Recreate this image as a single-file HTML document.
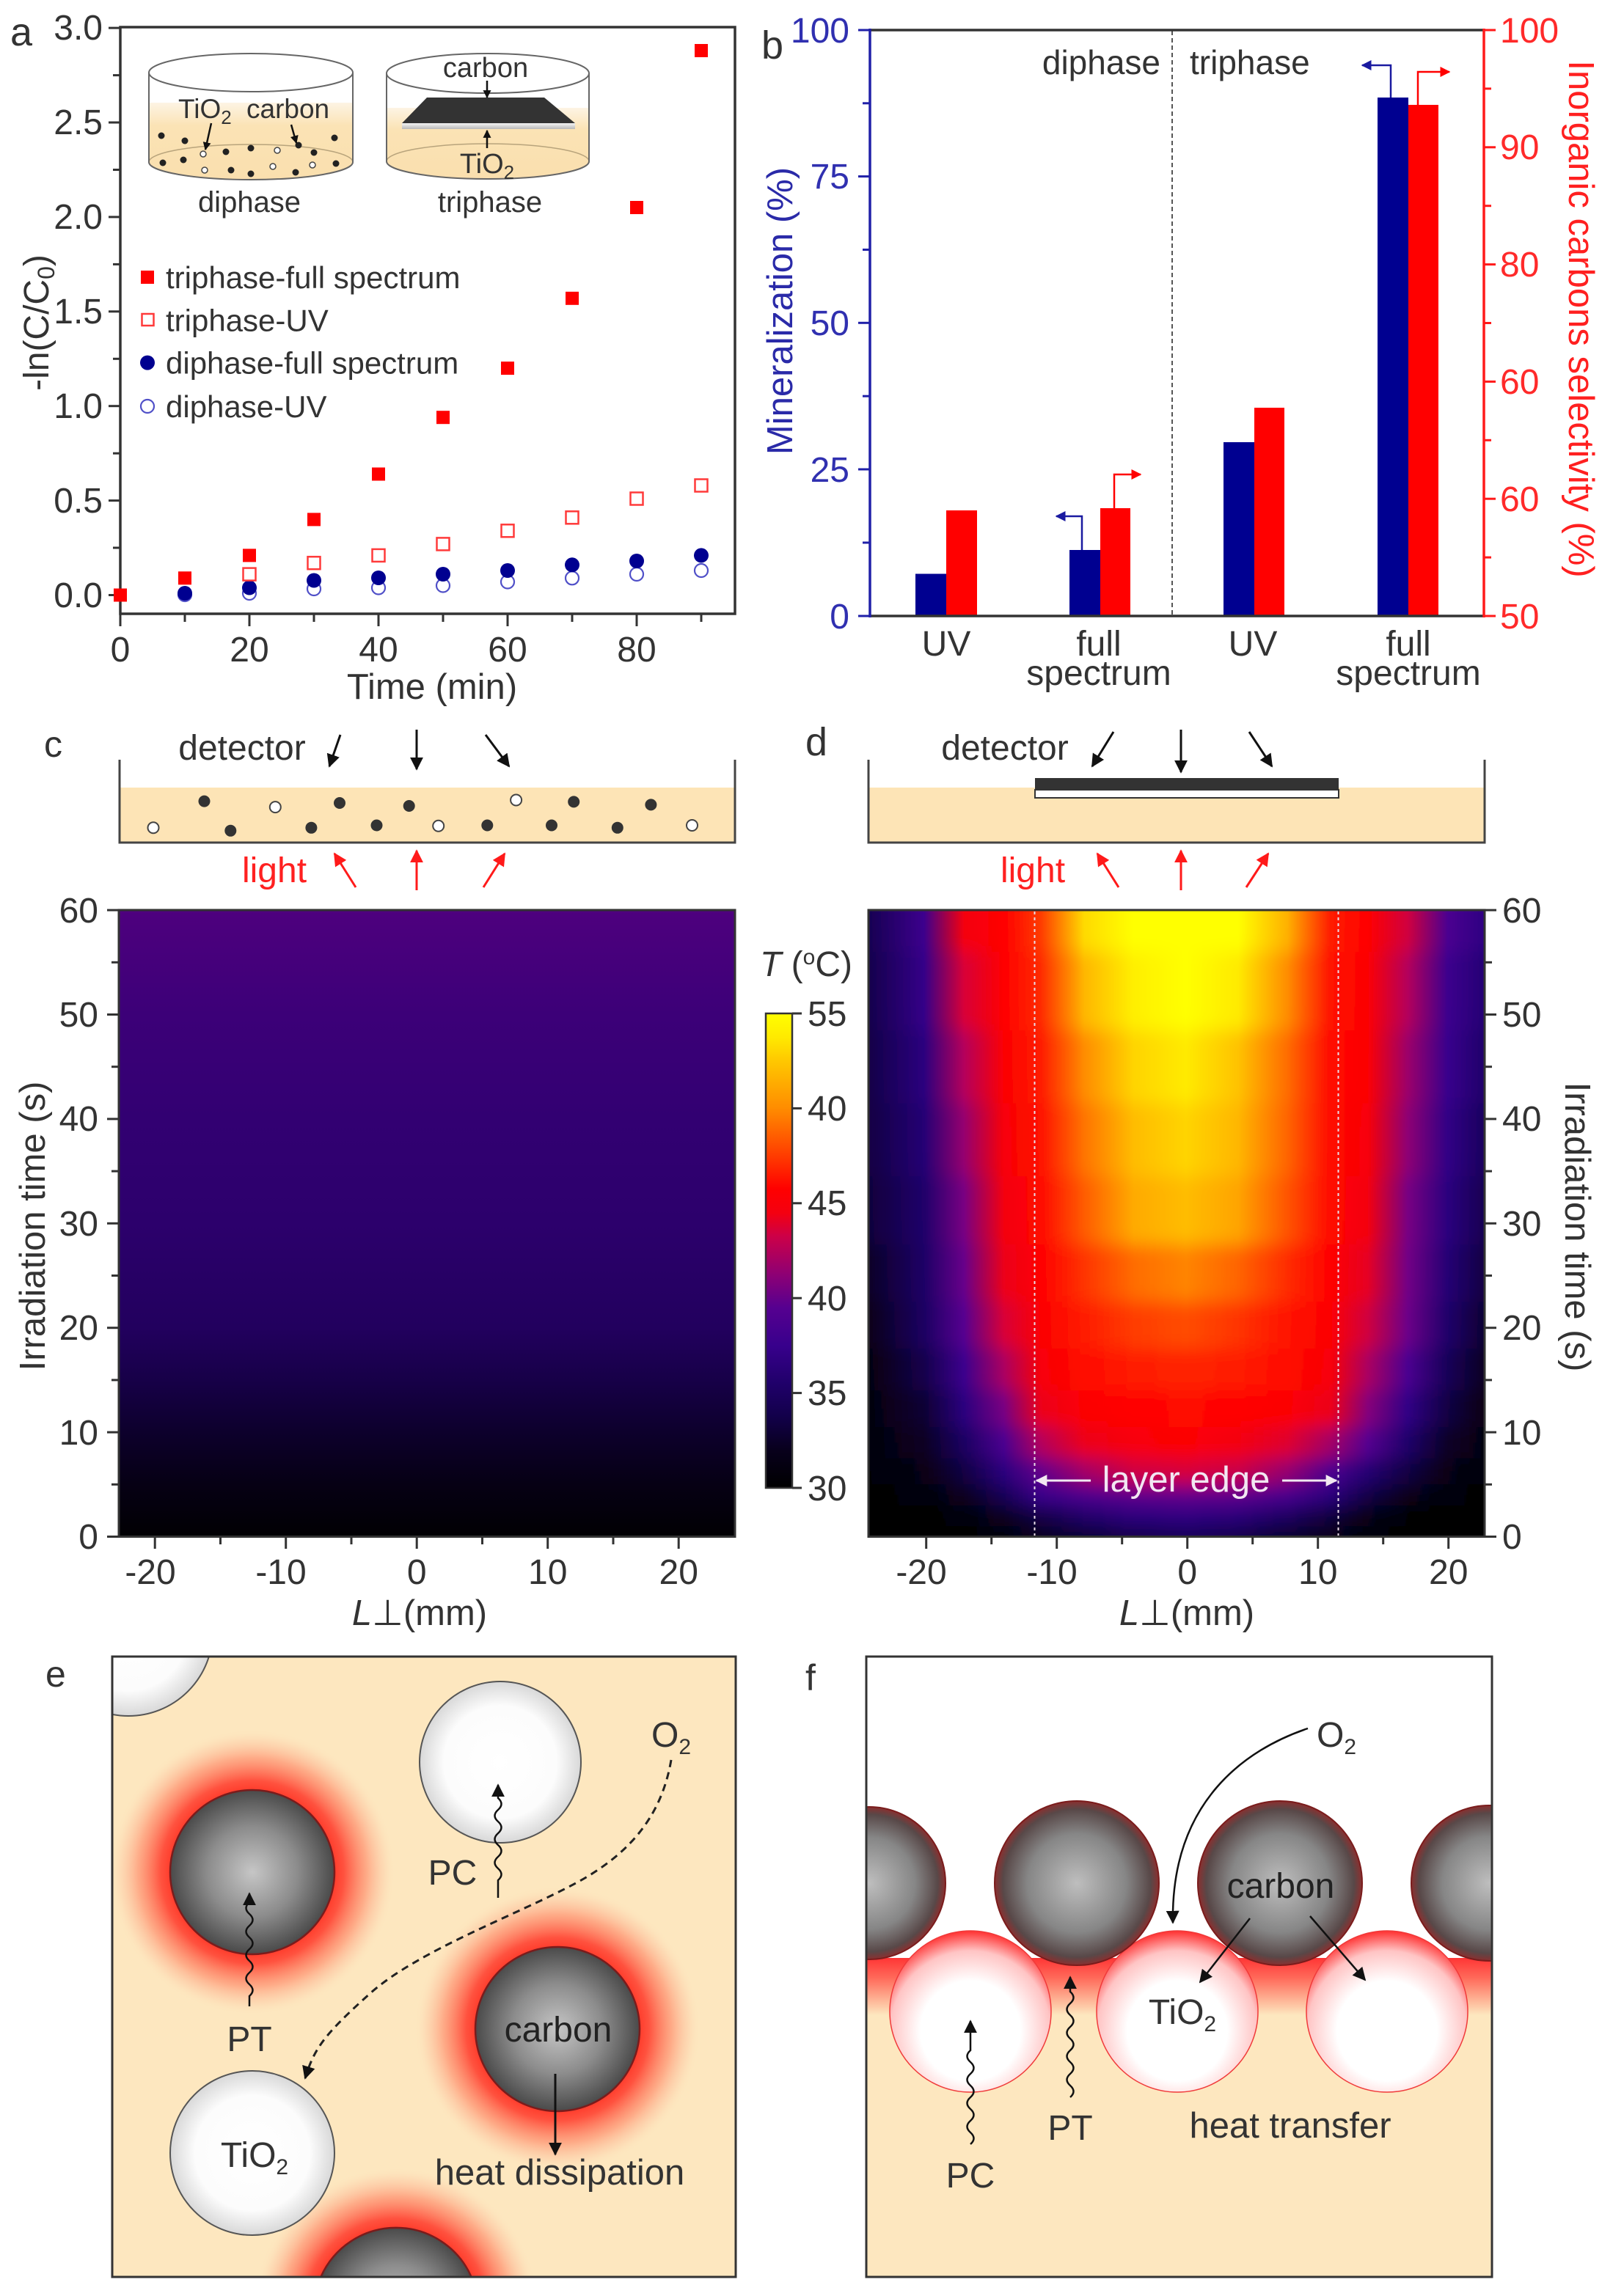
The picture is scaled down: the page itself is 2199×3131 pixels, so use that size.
<!DOCTYPE html>
<html><head><meta charset="utf-8"><style>
html,body{margin:0;padding:0;background:#fff;overflow:hidden;}
svg{display:block;}
text{font-family:"Liberation Sans","DejaVu Sans",sans-serif;fill:#333;}
</style></head><body>
<svg width="2199" height="3131" viewBox="0 0 2199 3131" xmlns="http://www.w3.org/2000/svg">
<defs>
<marker id="mk" viewBox="0 0 10 10" refX="9" refY="5" markerWidth="18" markerHeight="18" markerUnits="userSpaceOnUse" orient="auto"><path d="M0,0 L10,5 L0,10 z" fill="#111"/></marker>
<marker id="mks" viewBox="0 0 10 10" refX="9" refY="5" markerWidth="11" markerHeight="11" markerUnits="userSpaceOnUse" orient="auto"><path d="M0,0 L10,5 L0,10 z" fill="#111"/></marker>
<marker id="mr" viewBox="0 0 10 10" refX="9" refY="5" markerWidth="18" markerHeight="18" markerUnits="userSpaceOnUse" orient="auto"><path d="M0,0 L10,5 L0,10 z" fill="#ff1a1a"/></marker>
<marker id="mrs" viewBox="0 0 10 10" refX="9" refY="5" markerWidth="14" markerHeight="14" markerUnits="userSpaceOnUse" orient="auto"><path d="M0,0 L10,5 L0,10 z" fill="#ff0000"/></marker>
<marker id="mbs" viewBox="0 0 10 10" refX="9" refY="5" markerWidth="14" markerHeight="14" markerUnits="userSpaceOnUse" orient="auto"><path d="M0,0 L10,5 L0,10 z" fill="#1a1aa0"/></marker>
<marker id="mw" viewBox="0 0 10 10" refX="9" refY="5" markerWidth="16" markerHeight="16" markerUnits="userSpaceOnUse" orient="auto"><path d="M0,0 L10,5 L0,10 z" fill="#f2e8f2"/></marker>

<linearGradient id="liq" x1="0" y1="0" x2="0" y2="1"><stop offset="0" stop-color="#fdf4e4"/><stop offset="0.3" stop-color="#fbe3b5"/><stop offset="1" stop-color="#fadfae"/></linearGradient>
<linearGradient id="strip" x1="0" y1="0" x2="0" y2="1"><stop offset="0" stop-color="#f4f4f4"/><stop offset="1" stop-color="#b8b8b8"/></linearGradient>

<linearGradient id="cgrad" x1="0" y1="0" x2="0" y2="1">
<stop offset="0" stop-color="#4e007e"/><stop offset="0.167" stop-color="#3c0078"/><stop offset="0.333" stop-color="#320072"/><stop offset="0.5" stop-color="#2c006c"/><stop offset="0.667" stop-color="#22005e"/><stop offset="0.75" stop-color="#170048"/><stop offset="0.833" stop-color="#0d002c"/><stop offset="0.917" stop-color="#060014"/><stop offset="1" stop-color="#010003"/>
</linearGradient>
<linearGradient id="cbar" x1="0" y1="0" x2="0" y2="1">
<stop offset="0" stop-color="#ffff00"/><stop offset="0.05" stop-color="#ffea00"/><stop offset="0.1" stop-color="#ffc800"/><stop offset="0.2" stop-color="#ff8c00"/><stop offset="0.25" stop-color="#ff6400"/><stop offset="0.3" stop-color="#ff3c00"/><stop offset="0.37" stop-color="#ff0000"/><stop offset="0.42" stop-color="#f40010"/><stop offset="0.47" stop-color="#cc0048"/><stop offset="0.55" stop-color="#8e0074"/><stop offset="0.62" stop-color="#560090"/><stop offset="0.7" stop-color="#38008c"/><stop offset="0.78" stop-color="#20006a"/><stop offset="0.85" stop-color="#12004a"/><stop offset="0.92" stop-color="#08001c"/><stop offset="1" stop-color="#000000"/>
</linearGradient>

<linearGradient id="g60"><stop offset="0" stop-color="#170052"/><stop offset="0.09" stop-color="#3c008d"/><stop offset="0.155" stop-color="#f40010"/><stop offset="0.22" stop-color="#ff0000"/><stop offset="0.28" stop-color="#ff3c00"/><stop offset="0.35" stop-color="#ffda00"/><stop offset="0.43" stop-color="#ffff00"/><stop offset="0.515" stop-color="#ffff00"/><stop offset="0.6" stop-color="#ffff00"/><stop offset="0.68" stop-color="#ffb000"/><stop offset="0.75" stop-color="#ff1c00"/><stop offset="0.81" stop-color="#ff0000"/><stop offset="0.875" stop-color="#d0003f"/><stop offset="0.94" stop-color="#4b0090"/><stop offset="1" stop-color="#2e0082"/></linearGradient>
<linearGradient id="g52"><stop offset="0" stop-color="#15004c"/><stop offset="0.09" stop-color="#340088"/><stop offset="0.155" stop-color="#d80038"/><stop offset="0.22" stop-color="#ff0000"/><stop offset="0.28" stop-color="#ff2c00"/><stop offset="0.35" stop-color="#ffb600"/><stop offset="0.43" stop-color="#ffef00"/><stop offset="0.515" stop-color="#ffff00"/><stop offset="0.6" stop-color="#ffea00"/><stop offset="0.68" stop-color="#ff8c00"/><stop offset="0.75" stop-color="#ff1300"/><stop offset="0.81" stop-color="#fc0004"/><stop offset="0.875" stop-color="#b4005c"/><stop offset="0.94" stop-color="#3c008d"/><stop offset="1" stop-color="#250074"/></linearGradient>
<linearGradient id="g45"><stop offset="0" stop-color="#130048"/><stop offset="0.09" stop-color="#2b007e"/><stop offset="0.155" stop-color="#b4005c"/><stop offset="0.22" stop-color="#fc0004"/><stop offset="0.28" stop-color="#ff1c00"/><stop offset="0.35" stop-color="#ff8c00"/><stop offset="0.43" stop-color="#ffd400"/><stop offset="0.515" stop-color="#ffea00"/><stop offset="0.6" stop-color="#ffc200"/><stop offset="0.68" stop-color="#ff6c00"/><stop offset="0.75" stop-color="#ff0a00"/><stop offset="0.81" stop-color="#fc0004"/><stop offset="0.875" stop-color="#9c006a"/><stop offset="0.94" stop-color="#38008c"/><stop offset="1" stop-color="#20006a"/></linearGradient>
<linearGradient id="g38"><stop offset="0" stop-color="#120044"/><stop offset="0.09" stop-color="#250074"/><stop offset="0.155" stop-color="#95006f"/><stop offset="0.22" stop-color="#f80008"/><stop offset="0.28" stop-color="#ff1300"/><stop offset="0.35" stop-color="#ff7400"/><stop offset="0.43" stop-color="#ffbc00"/><stop offset="0.515" stop-color="#ffd400"/><stop offset="0.6" stop-color="#ffb600"/><stop offset="0.68" stop-color="#ff6400"/><stop offset="0.75" stop-color="#ff0a00"/><stop offset="0.81" stop-color="#f80008"/><stop offset="0.875" stop-color="#8e0074"/><stop offset="0.94" stop-color="#310085"/><stop offset="1" stop-color="#1a005e"/></linearGradient>
<linearGradient id="g31"><stop offset="0" stop-color="#10003c"/><stop offset="0.09" stop-color="#20006a"/><stop offset="0.155" stop-color="#780082"/><stop offset="0.22" stop-color="#f40010"/><stop offset="0.28" stop-color="#ff0a00"/><stop offset="0.35" stop-color="#ff5c00"/><stop offset="0.43" stop-color="#ffaa00"/><stop offset="0.515" stop-color="#ffbc00"/><stop offset="0.6" stop-color="#ffa400"/><stop offset="0.68" stop-color="#ff5400"/><stop offset="0.75" stop-color="#ff0a00"/><stop offset="0.81" stop-color="#f40010"/><stop offset="0.875" stop-color="#780082"/><stop offset="0.94" stop-color="#2b007e"/><stop offset="1" stop-color="#170052"/></linearGradient>
<linearGradient id="g25"><stop offset="0" stop-color="#0b0028"/><stop offset="0.09" stop-color="#1e0066"/><stop offset="0.155" stop-color="#67008a"/><stop offset="0.22" stop-color="#ec001a"/><stop offset="0.28" stop-color="#ff0000"/><stop offset="0.35" stop-color="#ff3400"/><stop offset="0.43" stop-color="#ff6c00"/><stop offset="0.515" stop-color="#ff8400"/><stop offset="0.6" stop-color="#ff6400"/><stop offset="0.68" stop-color="#ff2c00"/><stop offset="0.75" stop-color="#ff0000"/><stop offset="0.81" stop-color="#e60024"/><stop offset="0.875" stop-color="#720085"/><stop offset="0.94" stop-color="#250074"/><stop offset="1" stop-color="#120044"/></linearGradient>
<linearGradient id="g20"><stop offset="0" stop-color="#08001a"/><stop offset="0.09" stop-color="#1c0062"/><stop offset="0.155" stop-color="#560090"/><stop offset="0.22" stop-color="#d80038"/><stop offset="0.28" stop-color="#fc0004"/><stop offset="0.35" stop-color="#ff1c00"/><stop offset="0.43" stop-color="#ff3c00"/><stop offset="0.515" stop-color="#ff4c00"/><stop offset="0.6" stop-color="#ff3400"/><stop offset="0.68" stop-color="#ff1300"/><stop offset="0.75" stop-color="#fc0004"/><stop offset="0.81" stop-color="#d0003f"/><stop offset="0.875" stop-color="#6c0088"/><stop offset="0.94" stop-color="#20006a"/><stop offset="1" stop-color="#0e0034"/></linearGradient>
<linearGradient id="g16"><stop offset="0" stop-color="#05000f"/><stop offset="0.09" stop-color="#15004c"/><stop offset="0.155" stop-color="#3c008d"/><stop offset="0.22" stop-color="#ab0061"/><stop offset="0.28" stop-color="#f80008"/><stop offset="0.35" stop-color="#ff0a00"/><stop offset="0.43" stop-color="#ff1c00"/><stop offset="0.515" stop-color="#ff2400"/><stop offset="0.6" stop-color="#ff1c00"/><stop offset="0.68" stop-color="#ff0a00"/><stop offset="0.75" stop-color="#f80008"/><stop offset="0.81" stop-color="#ab0061"/><stop offset="0.875" stop-color="#4b0090"/><stop offset="0.94" stop-color="#180058"/><stop offset="1" stop-color="#0a0024"/></linearGradient>
<linearGradient id="g12"><stop offset="0" stop-color="#04000d"/><stop offset="0.09" stop-color="#0e0034"/><stop offset="0.155" stop-color="#2b007e"/><stop offset="0.22" stop-color="#780082"/><stop offset="0.28" stop-color="#ec001a"/><stop offset="0.35" stop-color="#fc0004"/><stop offset="0.43" stop-color="#ff0000"/><stop offset="0.515" stop-color="#ff0a00"/><stop offset="0.6" stop-color="#ff0000"/><stop offset="0.68" stop-color="#fc0004"/><stop offset="0.75" stop-color="#ec001a"/><stop offset="0.81" stop-color="#86007a"/><stop offset="0.875" stop-color="#310085"/><stop offset="0.94" stop-color="#120044"/><stop offset="1" stop-color="#070014"/></linearGradient>
<linearGradient id="g9"><stop offset="0" stop-color="#03000a"/><stop offset="0.09" stop-color="#0a0024"/><stop offset="0.155" stop-color="#1c0062"/><stop offset="0.22" stop-color="#4b0090"/><stop offset="0.28" stop-color="#b4005c"/><stop offset="0.35" stop-color="#ec001a"/><stop offset="0.43" stop-color="#f80008"/><stop offset="0.515" stop-color="#fc0004"/><stop offset="0.6" stop-color="#f40010"/><stop offset="0.68" stop-color="#df002e"/><stop offset="0.75" stop-color="#a30066"/><stop offset="0.81" stop-color="#560090"/><stop offset="0.875" stop-color="#20006a"/><stop offset="0.94" stop-color="#0b0028"/><stop offset="1" stop-color="#05000f"/></linearGradient>
<linearGradient id="g6"><stop offset="0" stop-color="#020006"/><stop offset="0.09" stop-color="#070014"/><stop offset="0.155" stop-color="#120044"/><stop offset="0.22" stop-color="#2b007e"/><stop offset="0.28" stop-color="#62008c"/><stop offset="0.35" stop-color="#a30066"/><stop offset="0.43" stop-color="#d0003f"/><stop offset="0.515" stop-color="#d80038"/><stop offset="0.6" stop-color="#ca0046"/><stop offset="0.68" stop-color="#95006f"/><stop offset="0.75" stop-color="#4b0090"/><stop offset="0.81" stop-color="#250074"/><stop offset="0.875" stop-color="#120044"/><stop offset="0.94" stop-color="#070014"/><stop offset="1" stop-color="#03000a"/></linearGradient>
<linearGradient id="g4"><stop offset="0" stop-color="#010003"/><stop offset="0.09" stop-color="#03000a"/><stop offset="0.155" stop-color="#09001f"/><stop offset="0.22" stop-color="#180058"/><stop offset="0.28" stop-color="#38008c"/><stop offset="0.35" stop-color="#4b0090"/><stop offset="0.43" stop-color="#5c008e"/><stop offset="0.515" stop-color="#62008c"/><stop offset="0.6" stop-color="#5c008e"/><stop offset="0.68" stop-color="#46008f"/><stop offset="0.75" stop-color="#2b007e"/><stop offset="0.81" stop-color="#130048"/><stop offset="0.875" stop-color="#08001a"/><stop offset="0.94" stop-color="#03000a"/><stop offset="1" stop-color="#010003"/></linearGradient>
<linearGradient id="g2"><stop offset="0" stop-color="#000000"/><stop offset="0.09" stop-color="#010003"/><stop offset="0.155" stop-color="#03000a"/><stop offset="0.22" stop-color="#09001f"/><stop offset="0.28" stop-color="#130048"/><stop offset="0.35" stop-color="#20006a"/><stop offset="0.43" stop-color="#2b007e"/><stop offset="0.515" stop-color="#2e0082"/><stop offset="0.6" stop-color="#28007a"/><stop offset="0.68" stop-color="#1c0062"/><stop offset="0.75" stop-color="#10003c"/><stop offset="0.81" stop-color="#070014"/><stop offset="0.875" stop-color="#020006"/><stop offset="0.94" stop-color="#010003"/><stop offset="1" stop-color="#000000"/></linearGradient>
<linearGradient id="g0"><stop offset="0" stop-color="#000000"/><stop offset="0.09" stop-color="#000000"/><stop offset="0.155" stop-color="#010003"/><stop offset="0.22" stop-color="#04000d"/><stop offset="0.28" stop-color="#09001f"/><stop offset="0.35" stop-color="#0e0034"/><stop offset="0.43" stop-color="#15004c"/><stop offset="0.515" stop-color="#180058"/><stop offset="0.6" stop-color="#15004c"/><stop offset="0.68" stop-color="#0c002e"/><stop offset="0.75" stop-color="#08001a"/><stop offset="0.81" stop-color="#03000a"/><stop offset="0.875" stop-color="#010003"/><stop offset="0.94" stop-color="#000000"/><stop offset="1" stop-color="#000000"/></linearGradient>

<filter id="vb" filterUnits="userSpaceOnUse" x="1184" y="1150" width="840" height="1020"><feGaussianBlur stdDeviation="0 12"/></filter>
<clipPath id="cd"><rect x="1184" y="1241" width="840" height="854.5"/></clipPath>

<radialGradient id="carb" cx="0.5" cy="0.5" r="0.5"><stop offset="0" stop-color="#c6c6c6"/><stop offset="0.55" stop-color="#8c8c8c"/><stop offset="1" stop-color="#4a4a4a"/></radialGradient>
<radialGradient id="carbB" gradientUnits="userSpaceOnUse" cx="540" cy="3150" r="112"><stop offset="0" stop-color="#c6c6c6"/><stop offset="0.55" stop-color="#8c8c8c"/><stop offset="1" stop-color="#4a4a4a"/></radialGradient>
<radialGradient id="carbF" cx="0.5" cy="0.5" r="0.5"><stop offset="0" stop-color="#bebebe"/><stop offset="0.6" stop-color="#868686"/><stop offset="0.9" stop-color="#584848"/><stop offset="1" stop-color="#8a3030"/></radialGradient>
<radialGradient id="glow" cx="0.5" cy="0.5" r="0.5"><stop offset="0.56" stop-color="#ff3828"/><stop offset="0.64" stop-color="#ff4a38" stop-opacity="0.95"/><stop offset="0.8" stop-color="#ff7a5a" stop-opacity="0.55"/><stop offset="0.92" stop-color="#fca888" stop-opacity="0.2"/><stop offset="1" stop-color="#fde7bf" stop-opacity="0"/></radialGradient>
<radialGradient id="glowB" gradientUnits="userSpaceOnUse" cx="540" cy="3150" r="195"><stop offset="0.56" stop-color="#ff3828"/><stop offset="0.64" stop-color="#ff4a38" stop-opacity="0.95"/><stop offset="0.8" stop-color="#ff7a5a" stop-opacity="0.55"/><stop offset="0.92" stop-color="#fca888" stop-opacity="0.2"/><stop offset="1" stop-color="#fde7bf" stop-opacity="0"/></radialGradient>
<radialGradient id="wht" cx="0.5" cy="0.5" r="0.5"><stop offset="0" stop-color="#ffffff"/><stop offset="0.7" stop-color="#fcfcfc"/><stop offset="1" stop-color="#d8d8d8"/></radialGradient>
<radialGradient id="tio" cx="0.5" cy="0.62" r="0.62"><stop offset="0" stop-color="#ffffff"/><stop offset="0.5" stop-color="#ffffff"/><stop offset="0.8" stop-color="#ffc4c4"/><stop offset="1" stop-color="#ff3030"/></radialGradient>
<linearGradient id="band" x1="0" y1="0" x2="0" y2="1"><stop offset="0" stop-color="#ff3535"/><stop offset="0.35" stop-color="#ff6a5a"/><stop offset="1" stop-color="#fde7bf"/></linearGradient>
<clipPath id="ce"><rect x="153" y="2259" width="850" height="846"/></clipPath>
<clipPath id="cf"><rect x="1181" y="2259" width="853" height="846"/></clipPath>
</defs>

<!-- ================= PANEL A ================= -->
<text x="14" y="62" font-size="54">a</text>
<path d="M203,140 L481,140 L481,221 A139,24 0 0 1 203,221 Z" fill="url(#liq)"/>
<ellipse cx="342" cy="221" rx="139" ry="24" fill="none" stroke="#b8a47c" stroke-width="1.5"/>
<ellipse cx="342" cy="99" rx="139" ry="26" fill="none" stroke="#666" stroke-width="2"/>
<line x1="203" y1="99" x2="203" y2="221" stroke="#666" stroke-width="2"/>
<line x1="481" y1="99" x2="481" y2="221" stroke="#666" stroke-width="2"/>
<path d="M203,221 A139,24 0 0 0 481,221" fill="none" stroke="#666" stroke-width="2"/>
<g fill="#222">
<circle cx="220" cy="185" r="4.5"/><circle cx="252" cy="192" r="4.5"/><circle cx="222" cy="222" r="4.5"/><circle cx="250" cy="218" r="4.5"/><circle cx="308" cy="207" r="4.5"/><circle cx="315" cy="232" r="4.5"/><circle cx="342" cy="202" r="4.5"/><circle cx="342" cy="237" r="4.5"/><circle cx="407" cy="198" r="4.5"/><circle cx="428" cy="208" r="4.5"/><circle cx="403" cy="235" r="4.5"/><circle cx="456" cy="188" r="4.5"/><circle cx="458" cy="223" r="4.5"/>
</g>
<g fill="#fff" stroke="#444" stroke-width="1.5">
<circle cx="277" cy="210" r="4"/><circle cx="279" cy="232" r="4"/><circle cx="378" cy="205" r="4"/><circle cx="372" cy="227" r="4"/><circle cx="426" cy="225" r="4"/>
</g>
<text x="243" y="161" font-size="37">TiO<tspan font-size="26" dy="8">2</tspan></text>
<text x="336" y="161" font-size="37">carbon</text>
<line x1="288" y1="168" x2="280" y2="204" stroke="#111" stroke-width="2.5" marker-end="url(#mks)"/>
<line x1="397" y1="170" x2="404" y2="195" stroke="#111" stroke-width="2.5" marker-end="url(#mks)"/>
<text x="340" y="289" font-size="40" text-anchor="middle">diphase</text>
<path d="M527,147 L803,147 L803,220 A138,24 0 0 1 527,220 Z" fill="url(#liq)"/>
<ellipse cx="665" cy="220" rx="138" ry="24" fill="none" stroke="#b8a47c" stroke-width="1.5"/>
<ellipse cx="665" cy="100" rx="138" ry="27" fill="none" stroke="#666" stroke-width="2"/>
<line x1="527" y1="100" x2="527" y2="220" stroke="#666" stroke-width="2"/>
<line x1="803" y1="100" x2="803" y2="220" stroke="#666" stroke-width="2"/>
<path d="M527,220 A138,24 0 0 0 803,220" fill="none" stroke="#666" stroke-width="2"/>
<polygon points="582,133 742,133 784,168 548,168" fill="#333"/>
<rect x="548" y="168" width="236" height="8" fill="url(#strip)"/>
<text x="662" y="105" font-size="38" text-anchor="middle">carbon</text>
<line x1="664" y1="110" x2="664" y2="133" stroke="#111" stroke-width="2.5" marker-end="url(#mks)"/>
<text x="664" y="236" font-size="38" text-anchor="middle">TiO<tspan font-size="26" dy="8">2</tspan></text>
<line x1="664" y1="202" x2="664" y2="178" stroke="#111" stroke-width="2.5" marker-end="url(#mks)"/>
<text x="668" y="289" font-size="40" text-anchor="middle">triphase</text>

<rect x="164" y="37" width="838" height="800" fill="none" stroke="#333" stroke-width="3.5"/>
<g stroke="#333" stroke-width="3">
<line x1="148" y1="811.5" x2="164" y2="811.5"/><line x1="148" y1="682.6" x2="164" y2="682.6"/><line x1="148" y1="553.7" x2="164" y2="553.7"/><line x1="148" y1="424.8" x2="164" y2="424.8"/><line x1="148" y1="295.9" x2="164" y2="295.9"/><line x1="148" y1="167" x2="164" y2="167"/><line x1="148" y1="38.1" x2="164" y2="38.1"/>
<line x1="154" y1="747" x2="164" y2="747"/><line x1="154" y1="618.2" x2="164" y2="618.2"/><line x1="154" y1="489.3" x2="164" y2="489.3"/><line x1="154" y1="360.4" x2="164" y2="360.4"/><line x1="154" y1="231.5" x2="164" y2="231.5"/><line x1="154" y1="102.6" x2="164" y2="102.6"/>
<line x1="164" y1="837" x2="164" y2="854"/><line x1="340" y1="837" x2="340" y2="854"/><line x1="516" y1="837" x2="516" y2="854"/><line x1="692" y1="837" x2="692" y2="854"/><line x1="868" y1="837" x2="868" y2="854"/>
<line x1="252" y1="837" x2="252" y2="848"/><line x1="428" y1="837" x2="428" y2="848"/><line x1="604" y1="837" x2="604" y2="848"/><line x1="780" y1="837" x2="780" y2="848"/><line x1="956" y1="837" x2="956" y2="848"/>
</g>
<g font-size="48" text-anchor="end">
<text x="140" y="828">0.0</text><text x="140" y="699">0.5</text><text x="140" y="570">1.0</text><text x="140" y="441">1.5</text><text x="140" y="312">2.0</text><text x="140" y="183">2.5</text><text x="140" y="54">3.0</text>
</g>
<g font-size="48" text-anchor="middle">
<text x="164" y="902">0</text><text x="340" y="902">20</text><text x="516" y="902">40</text><text x="692" y="902">60</text><text x="868" y="902">80</text>
</g>
<text x="589" y="953" font-size="49" text-anchor="middle">Time (min)</text>
<text transform="translate(66,440) rotate(-90)" font-size="48" text-anchor="middle">-ln(C/C<tspan font-size="32" dy="8">0</tspan><tspan dy="-8">)</tspan></text>

<g fill="none" stroke="#5050c8" stroke-width="2.2">
<circle cx="252" cy="811" r="9"/><circle cx="340" cy="809" r="9"/><circle cx="428" cy="803" r="9"/><circle cx="516" cy="801.5" r="9"/><circle cx="604" cy="798.5" r="9"/><circle cx="692" cy="793.5" r="9"/><circle cx="780" cy="788.3" r="9"/><circle cx="868" cy="783" r="9"/><circle cx="956" cy="778" r="9"/>
</g>
<g fill="#000090">
<circle cx="252" cy="809" r="10"/><circle cx="340" cy="801.5" r="10"/><circle cx="428" cy="791.5" r="10"/><circle cx="516" cy="788" r="10"/><circle cx="604" cy="783" r="10"/><circle cx="692" cy="778" r="10"/><circle cx="780" cy="770.3" r="10"/><circle cx="868" cy="765" r="10"/><circle cx="956" cy="757.4" r="10"/>
</g>
<g fill="none" stroke="#ff3a3a" stroke-width="2.5">
<rect x="331.5" y="774.6" width="17" height="17"/><rect x="419.5" y="759.2" width="17" height="17"/><rect x="507.5" y="748.9" width="17" height="17"/><rect x="595.5" y="733.4" width="17" height="17"/><rect x="683.5" y="715.3" width="17" height="17"/><rect x="771.5" y="697.3" width="17" height="17"/><rect x="859.5" y="671.5" width="17" height="17"/><rect x="947.5" y="653.5" width="17" height="17"/>
</g>
<g fill="#ff0000">
<rect x="155" y="802.5" width="18" height="18"/><rect x="243" y="779.3" width="18" height="18"/><rect x="331" y="748.4" width="18" height="18"/><rect x="419" y="699.4" width="18" height="18"/><rect x="507" y="637.5" width="18" height="18"/><rect x="595" y="560.2" width="18" height="18"/><rect x="683" y="493.1" width="18" height="18"/><rect x="771" y="397.8" width="18" height="18"/><rect x="859" y="274" width="18" height="18"/><rect x="947" y="60" width="18" height="18"/>
</g>
<rect x="192" y="369" width="18" height="18" fill="#ff0000"/>
<rect x="193.5" y="428" width="16" height="16" fill="none" stroke="#ff3a3a" stroke-width="2.5"/>
<circle cx="201" cy="494.6" r="10" fill="#000090"/>
<circle cx="201" cy="554" r="9" fill="none" stroke="#5050c8" stroke-width="2.2"/>
<g font-size="42">
<text x="226" y="393">triphase-full spectrum</text>
<text x="226" y="451.5">triphase-UV</text>
<text x="226" y="509.6">diphase-full spectrum</text>
<text x="226" y="569">diphase-UV</text>
</g>

<!-- ================= PANEL B ================= -->
<text x="1038" y="80" font-size="54">b</text>
<g fill="#000090">
<rect x="1248" y="782.5" width="42" height="57.5"/><rect x="1458" y="750" width="42" height="90"/><rect x="1668" y="603" width="42" height="237"/><rect x="1878" y="133" width="42" height="707"/>
</g>
<g fill="#ff0000">
<rect x="1290" y="696" width="42" height="144"/><rect x="1500" y="693" width="41" height="147"/><rect x="1710" y="556" width="41" height="284"/><rect x="1920" y="143" width="41" height="697"/>
</g>
<line x1="1598" y1="42" x2="1598" y2="839" stroke="#555" stroke-width="2" stroke-dasharray="6,4"/>
<line x1="1186" y1="41" x2="2023" y2="41" stroke="#333" stroke-width="3.5"/>
<line x1="1186" y1="840" x2="2023" y2="840" stroke="#333" stroke-width="3.5"/>
<line x1="1186" y1="39" x2="1186" y2="842" stroke="#2020a8" stroke-width="3.5"/>
<line x1="2023" y1="39" x2="2023" y2="842" stroke="#ff1a1a" stroke-width="3.5"/>
<g stroke="#2020a8" stroke-width="3">
<line x1="1170" y1="41" x2="1186" y2="41"/><line x1="1170" y1="240.6" x2="1186" y2="240.6"/><line x1="1170" y1="440.3" x2="1186" y2="440.3"/><line x1="1170" y1="640" x2="1186" y2="640"/><line x1="1170" y1="840" x2="1186" y2="840"/>
<line x1="1176" y1="140.8" x2="1186" y2="140.8"/><line x1="1176" y1="340.5" x2="1186" y2="340.5"/><line x1="1176" y1="540.2" x2="1186" y2="540.2"/><line x1="1176" y1="740" x2="1186" y2="740"/>
</g>
<g stroke="#ff1a1a" stroke-width="3">
<line x1="2023" y1="41" x2="2039" y2="41"/><line x1="2023" y1="200.8" x2="2039" y2="200.8"/><line x1="2023" y1="360.6" x2="2039" y2="360.6"/><line x1="2023" y1="520.4" x2="2039" y2="520.4"/><line x1="2023" y1="680.2" x2="2039" y2="680.2"/><line x1="2023" y1="840" x2="2039" y2="840"/>
<line x1="2023" y1="120.9" x2="2033" y2="120.9"/><line x1="2023" y1="280.7" x2="2033" y2="280.7"/><line x1="2023" y1="440.5" x2="2033" y2="440.5"/><line x1="2023" y1="600.3" x2="2033" y2="600.3"/><line x1="2023" y1="760.1" x2="2033" y2="760.1"/>
</g>
<g font-size="48" text-anchor="end">
<text x="1158" y="58" style="fill:#3030b0">100</text><text x="1158" y="257" style="fill:#3030b0">75</text><text x="1158" y="457" style="fill:#3030b0">50</text><text x="1158" y="657" style="fill:#3030b0">25</text><text x="1158" y="857" style="fill:#3030b0">0</text>
</g>
<g font-size="48">
<text x="2045" y="58" style="fill:#ff2a2a">100</text><text x="2045" y="217" style="fill:#ff2a2a">90</text><text x="2045" y="377" style="fill:#ff2a2a">80</text><text x="2045" y="537" style="fill:#ff2a2a">60</text><text x="2045" y="697" style="fill:#ff2a2a">60</text><text x="2045" y="857" style="fill:#ff2a2a">50</text>
</g>
<text transform="translate(1080,424) rotate(-90)" font-size="49" text-anchor="middle" style="fill:#2a2aa8">Mineralization (%)</text>
<text transform="translate(2139,435) rotate(90)" font-size="49" text-anchor="middle" style="fill:#ff2020">Inorganic carbons selectivity (%)</text>
<text x="1582" y="101" font-size="46" text-anchor="end">diphase</text>
<text x="1622" y="101" font-size="46">triphase</text>
<g font-size="48" text-anchor="middle">
<text x="1290" y="894">UV</text><text x="1498" y="894">full</text><text x="1498" y="934">spectrum</text>
<text x="1708" y="894">UV</text><text x="1920" y="894">full</text><text x="1920" y="934">spectrum</text>
</g>
<polyline points="1475,750 1475,704 1440,704" fill="none" stroke="#1a1aa0" stroke-width="2.5" marker-end="url(#mbs)"/>
<polyline points="1519,693 1519,647 1555,647" fill="none" stroke="#ff0000" stroke-width="2.5" marker-end="url(#mrs)"/>
<polyline points="1896,133 1896,89 1857,89" fill="none" stroke="#1a1aa0" stroke-width="2.5" marker-end="url(#mbs)"/>
<polyline points="1933,143 1933,98 1976,98" fill="none" stroke="#ff0000" stroke-width="2.5" marker-end="url(#mrs)"/>

<!-- ================= PANEL C ================= -->
<text x="60" y="1032" font-size="50">c</text>
<rect x="163" y="1074" width="839" height="75" fill="#fde4b6"/>
<polyline points="163,1036 163,1149 1002,1149 1002,1036" fill="none" stroke="#444" stroke-width="3"/>
<g fill="#333">
<circle cx="278.5" cy="1092.6" r="8"/><circle cx="314.3" cy="1132.8" r="8"/><circle cx="424.4" cy="1128.8" r="8"/><circle cx="463" cy="1095" r="8"/><circle cx="513.5" cy="1125.5" r="8"/><circle cx="557.7" cy="1099" r="8"/><circle cx="664.3" cy="1125.5" r="8"/><circle cx="752" cy="1125.5" r="8"/><circle cx="782.2" cy="1093.4" r="8"/><circle cx="841.8" cy="1128.8" r="8"/><circle cx="887.4" cy="1097.4" r="8"/>
</g>
<g fill="#fff" stroke="#444" stroke-width="2">
<circle cx="209" cy="1128.8" r="7.5"/><circle cx="375.3" cy="1100.6" r="7.5"/><circle cx="597.7" cy="1126.3" r="7.5"/><circle cx="703.6" cy="1091" r="7.5"/><circle cx="943.5" cy="1125.5" r="7.5"/>
</g>
<text x="330" y="1036" font-size="48" text-anchor="middle">detector</text>
<line x1="464" y1="1002" x2="449" y2="1045" stroke="#111" stroke-width="3" marker-end="url(#mk)"/>
<line x1="568" y1="995" x2="568" y2="1049" stroke="#111" stroke-width="3" marker-end="url(#mk)"/>
<line x1="662" y1="1002" x2="694" y2="1045" stroke="#111" stroke-width="3" marker-end="url(#mk)"/>
<text x="374" y="1203" font-size="48" text-anchor="middle" style="fill:#ff2020">light</text>
<line x1="485" y1="1210" x2="456" y2="1164" stroke="#ff1a1a" stroke-width="3" marker-end="url(#mr)"/>
<line x1="568" y1="1214" x2="568" y2="1160" stroke="#ff1a1a" stroke-width="3" marker-end="url(#mr)"/>
<line x1="659" y1="1210" x2="688" y2="1164" stroke="#ff1a1a" stroke-width="3" marker-end="url(#mr)"/>

<rect x="162" y="1241" width="840" height="854.5" fill="url(#cgrad)" stroke="#333" stroke-width="3"/>
<g stroke="#333" stroke-width="3">
<line x1="146" y1="2095.5" x2="162" y2="2095.5"/><line x1="146" y1="1953.1" x2="162" y2="1953.1"/><line x1="146" y1="1810.7" x2="162" y2="1810.7"/><line x1="146" y1="1668.3" x2="162" y2="1668.3"/><line x1="146" y1="1525.9" x2="162" y2="1525.9"/><line x1="146" y1="1383.5" x2="162" y2="1383.5"/><line x1="146" y1="1241.1" x2="162" y2="1241.1"/>
<line x1="152" y1="2024.3" x2="162" y2="2024.3"/><line x1="152" y1="1881.9" x2="162" y2="1881.9"/><line x1="152" y1="1739.5" x2="162" y2="1739.5"/><line x1="152" y1="1597.1" x2="162" y2="1597.1"/><line x1="152" y1="1454.7" x2="162" y2="1454.7"/><line x1="152" y1="1312.3" x2="162" y2="1312.3"/>
<line x1="211.2" y1="2096" x2="211.2" y2="2112"/><line x1="389.7" y1="2096" x2="389.7" y2="2112"/><line x1="568.2" y1="2096" x2="568.2" y2="2112"/><line x1="746.7" y1="2096" x2="746.7" y2="2112"/><line x1="925.2" y1="2096" x2="925.2" y2="2112"/>
<line x1="300.5" y1="2096" x2="300.5" y2="2106"/><line x1="479" y1="2096" x2="479" y2="2106"/><line x1="657.5" y1="2096" x2="657.5" y2="2106"/><line x1="836" y1="2096" x2="836" y2="2106"/>
</g>
<g font-size="48" text-anchor="end">
<text x="134" y="2112">0</text><text x="134" y="1970">10</text><text x="134" y="1827">20</text><text x="134" y="1685">30</text><text x="134" y="1542">40</text><text x="134" y="1400">50</text><text x="134" y="1258">60</text>
</g>
<g font-size="48" text-anchor="middle">
<text x="205" y="2160">-20</text><text x="383" y="2160">-10</text><text x="568.2" y="2160">0</text><text x="746.7" y="2160">10</text><text x="925.2" y="2160">20</text>
</g>
<text x="572" y="2216" font-size="49" text-anchor="middle"><tspan font-style="italic">L</tspan>⊥(mm)</text>
<text transform="translate(61,1672) rotate(-90)" font-size="49" text-anchor="middle">Irradiation time (s)</text>

<rect x="1044" y="1382" width="36" height="647" fill="url(#cbar)" stroke="#333" stroke-width="2.5"/>
<g stroke="#333" stroke-width="3">
<line x1="1080" y1="1382" x2="1093" y2="1382"/><line x1="1080" y1="1511.4" x2="1093" y2="1511.4"/><line x1="1080" y1="1640.8" x2="1093" y2="1640.8"/><line x1="1080" y1="1770.2" x2="1093" y2="1770.2"/><line x1="1080" y1="1899.6" x2="1093" y2="1899.6"/><line x1="1080" y1="2029" x2="1093" y2="2029"/>
</g>
<g font-size="48">
<text x="1101" y="1399">55</text><text x="1101" y="1528">40</text><text x="1101" y="1657">45</text><text x="1101" y="1787">40</text><text x="1101" y="1916">35</text><text x="1101" y="2046">30</text>
</g>
<text x="1099" y="1331" font-size="48" text-anchor="middle"><tspan font-style="italic">T</tspan> (<tspan font-size="30" dy="-16">o</tspan><tspan dy="16">C)</tspan></text>

<!-- ================= PANEL D ================= -->
<text x="1098" y="1030" font-size="54">d</text>
<rect x="1184" y="1074" width="840" height="75" fill="#fde4b6"/>
<polyline points="1184,1036 1184,1149 2024,1149 2024,1036" fill="none" stroke="#444" stroke-width="3"/>
<rect x="1411" y="1061" width="414" height="16" fill="#333"/>
<rect x="1411" y="1077" width="414" height="11" fill="#fff" stroke="#333" stroke-width="2"/>
<text x="1370" y="1036" font-size="48" text-anchor="middle">detector</text>
<line x1="1518" y1="998" x2="1489" y2="1045" stroke="#111" stroke-width="3" marker-end="url(#mk)"/>
<line x1="1610" y1="995" x2="1610" y2="1053" stroke="#111" stroke-width="3" marker-end="url(#mk)"/>
<line x1="1703" y1="998" x2="1734" y2="1045" stroke="#111" stroke-width="3" marker-end="url(#mk)"/>
<text x="1408" y="1203" font-size="48" text-anchor="middle" style="fill:#ff2020">light</text>
<line x1="1525" y1="1210" x2="1496" y2="1164" stroke="#ff1a1a" stroke-width="3" marker-end="url(#mr)"/>
<line x1="1610" y1="1214" x2="1610" y2="1160" stroke="#ff1a1a" stroke-width="3" marker-end="url(#mr)"/>
<line x1="1699" y1="1210" x2="1729" y2="1164" stroke="#ff1a1a" stroke-width="3" marker-end="url(#mr)"/>

<g clip-path="url(#cd)">
<rect x="1184" y="1241" width="840" height="855" fill="#000"/>
<g filter="url(#vb)">
<rect x="1184" y="1160" width="840" height="138" fill="url(#g60)"/>
<rect x="1184" y="1298" width="840" height="107" fill="url(#g52)"/>
<rect x="1184" y="1405" width="840" height="99.5" fill="url(#g45)"/>
<rect x="1184" y="1504.5" width="840" height="99.5" fill="url(#g38)"/>
<rect x="1184" y="1604" width="840" height="93" fill="url(#g31)"/>
<rect x="1184" y="1697" width="840" height="78" fill="url(#g25)"/>
<rect x="1184" y="1775" width="840" height="64" fill="url(#g20)"/>
<rect x="1184" y="1839" width="840" height="57" fill="url(#g16)"/>
<rect x="1184" y="1896" width="840" height="50" fill="url(#g12)"/>
<rect x="1184" y="1946" width="840" height="42.5" fill="url(#g9)"/>
<rect x="1184" y="1988.5" width="840" height="35.5" fill="url(#g6)"/>
<rect x="1184" y="2024" width="840" height="29" fill="url(#g4)"/>
<rect x="1184" y="2053" width="840" height="28" fill="url(#g2)"/>
<rect x="1184" y="2081" width="840" height="80" fill="url(#g0)"/>
</g>
</g>
<line x1="1410.5" y1="1243" x2="1410.5" y2="2094" stroke="#e8dde8" stroke-width="2" stroke-dasharray="4,4"/>
<line x1="1824.5" y1="1243" x2="1824.5" y2="2094" stroke="#e8dde8" stroke-width="2" stroke-dasharray="4,4"/>
<line x1="1487" y1="2019" x2="1413" y2="2019" stroke="#f2e8f2" stroke-width="3" marker-end="url(#mw)"/>
<line x1="1748" y1="2019" x2="1822" y2="2019" stroke="#f2e8f2" stroke-width="3" marker-end="url(#mw)"/>
<text x="1617" y="2034" font-size="49" text-anchor="middle" style="fill:#f2e6f2">layer edge</text>
<rect x="1184" y="1241" width="840" height="854.5" fill="none" stroke="#333" stroke-width="3"/>
<g stroke="#333" stroke-width="3">
<line x1="2024" y1="2095.5" x2="2040" y2="2095.5"/><line x1="2024" y1="1953.1" x2="2040" y2="1953.1"/><line x1="2024" y1="1810.7" x2="2040" y2="1810.7"/><line x1="2024" y1="1668.3" x2="2040" y2="1668.3"/><line x1="2024" y1="1525.9" x2="2040" y2="1525.9"/><line x1="2024" y1="1383.5" x2="2040" y2="1383.5"/><line x1="2024" y1="1241.1" x2="2040" y2="1241.1"/>
<line x1="2024" y1="2024.3" x2="2034" y2="2024.3"/><line x1="2024" y1="1881.9" x2="2034" y2="1881.9"/><line x1="2024" y1="1739.5" x2="2034" y2="1739.5"/><line x1="2024" y1="1597.1" x2="2034" y2="1597.1"/><line x1="2024" y1="1454.7" x2="2034" y2="1454.7"/><line x1="2024" y1="1312.3" x2="2034" y2="1312.3"/>
<line x1="1262.7" y1="2096" x2="1262.7" y2="2112"/><line x1="1440.7" y1="2096" x2="1440.7" y2="2112"/><line x1="1618.7" y1="2096" x2="1618.7" y2="2112"/><line x1="1796.7" y1="2096" x2="1796.7" y2="2112"/><line x1="1974.7" y1="2096" x2="1974.7" y2="2112"/>
<line x1="1351.7" y1="2096" x2="1351.7" y2="2106"/><line x1="1529.7" y1="2096" x2="1529.7" y2="2106"/><line x1="1707.7" y1="2096" x2="1707.7" y2="2106"/><line x1="1885.7" y1="2096" x2="1885.7" y2="2106"/>
</g>
<g font-size="48">
<text x="2048" y="2112">0</text><text x="2048" y="1970">10</text><text x="2048" y="1827">20</text><text x="2048" y="1685">30</text><text x="2048" y="1542">40</text><text x="2048" y="1400">50</text><text x="2048" y="1258">60</text>
</g>
<g font-size="48" text-anchor="middle">
<text x="1256" y="2160">-20</text><text x="1434" y="2160">-10</text><text x="1618.7" y="2160">0</text><text x="1796.7" y="2160">10</text><text x="1974.7" y="2160">20</text>
</g>
<text x="1618" y="2216" font-size="49" text-anchor="middle"><tspan font-style="italic">L</tspan>⊥(mm)</text>
<text transform="translate(2134,1673) rotate(90)" font-size="49" text-anchor="middle">Irradiation time (s)</text>

<!-- ================= PANEL E ================= -->
<text x="62" y="2300" font-size="50">e</text>
<rect x="153" y="2259" width="850" height="846" fill="#fde7bf"/>
<g clip-path="url(#ce)">
<circle cx="175" cy="2225" r="115" fill="url(#wht)" stroke="#555" stroke-width="2"/>
<circle cx="344" cy="2553" r="195" fill="url(#glow)"/>
<circle cx="760" cy="2767" r="195" fill="url(#glow)"/>
<path d="M351,3105 A195,195 0 0 1 729,3105 Z" fill="url(#glowB)"/>
<circle cx="344" cy="2553" r="112" fill="url(#carb)" stroke="#7a1c1c" stroke-width="2.5"/>
<circle cx="760" cy="2767" r="112" fill="url(#carb)" stroke="#7a1c1c" stroke-width="2.5"/>
<path d="M437.4,3105 A112,112 0 0 1 642.6,3105 Z" fill="url(#carbB)" stroke="#7a1c1c" stroke-width="2.5"/>
<circle cx="682" cy="2403" r="110" fill="url(#wht)" stroke="#555" stroke-width="2"/>
<circle cx="344" cy="2936" r="112" fill="url(#wht)" stroke="#555" stroke-width="2"/>
</g>
<rect x="153" y="2259" width="850" height="846" fill="none" stroke="#333" stroke-width="3"/>
<path d="M915,2400 C903,2470 865,2525 785,2568 S 570,2660 505,2718 S 428,2795 416,2834" fill="none" stroke="#222" stroke-width="3" stroke-dasharray="10,7" marker-end="url(#mk)"/>
<path d="M340,2736 l0,-14 q9,-8 0,-16 t0,-16 t0,-16 t0,-16 t0,-16 t0,-16 t0,-16 t0,-16 l0,-12" fill="none" stroke="#111" stroke-width="2.5" marker-end="url(#mk)"/>
<path d="M679,2588 l0,-24 q9,-8 0,-16 t0,-16 t0,-16 t0,-16 t0,-16 t0,-16 t0,-16 l0,-18" fill="none" stroke="#111" stroke-width="2.5" marker-end="url(#mk)"/>
<line x1="757" y1="2828" x2="757" y2="2938" stroke="#111" stroke-width="3" marker-end="url(#mk)"/>
<text x="915" y="2382" font-size="48" text-anchor="middle">O<tspan font-size="30" dy="10">2</tspan></text>
<text x="617" y="2570" font-size="48" text-anchor="middle">PC</text>
<text x="340" y="2797" font-size="48" text-anchor="middle">PT</text>
<text x="761" y="2784" font-size="48" text-anchor="middle" style="fill:#222">carbon</text>
<text x="347" y="2955" font-size="48" text-anchor="middle">TiO<tspan font-size="30" dy="10">2</tspan></text>
<text x="763" y="2979" font-size="49" text-anchor="middle">heat dissipation</text>

<!-- ================= PANEL F ================= -->
<text x="1098" y="2305" font-size="50">f</text>
<g clip-path="url(#cf)">
<rect x="1181" y="2259" width="853" height="846" fill="#ffffff"/>
<rect x="1181" y="2745" width="853" height="360" fill="#fde7bf"/>
<rect x="1181" y="2670" width="853" height="78" fill="url(#band)"/>
<circle cx="1323" cy="2743" r="110" fill="url(#tio)" stroke="#f03a3a" stroke-width="1.5"/>
<circle cx="1605" cy="2743" r="110" fill="url(#tio)" stroke="#f03a3a" stroke-width="1.5"/>
<circle cx="1891" cy="2743" r="110" fill="url(#tio)" stroke="#f03a3a" stroke-width="1.5"/>
<circle cx="1185" cy="2568" r="104" fill="url(#carbF)" stroke="#7a1c1c" stroke-width="2"/>
<circle cx="1468" cy="2568" r="112" fill="url(#carbF)" stroke="#7a1c1c" stroke-width="2"/>
<circle cx="1745" cy="2568" r="112" fill="url(#carbF)" stroke="#7a1c1c" stroke-width="2"/>
<circle cx="2030" cy="2568" r="106" fill="url(#carbF)" stroke="#7a1c1c" stroke-width="2"/>
</g>
<rect x="1181" y="2259" width="853" height="846" fill="none" stroke="#333" stroke-width="3"/>
<path d="M1783,2357 C1700,2385 1596,2455 1599,2622" fill="none" stroke="#111" stroke-width="2.5" marker-end="url(#mk)"/>
<line x1="1704" y1="2616" x2="1636" y2="2703" stroke="#111" stroke-width="2.5" marker-end="url(#mk)"/>
<line x1="1786" y1="2613" x2="1861" y2="2700" stroke="#111" stroke-width="2.5" marker-end="url(#mk)"/>
<path d="M1459,2860 q9,-8 0,-16 t0,-16 t0,-16 t0,-16 t0,-16 t0,-16 t0,-16 t0,-16 t0,-16 l0,-20" fill="none" stroke="#111" stroke-width="2.5" marker-end="url(#mk)"/>
<path d="M1323,2924 q9,-8 0,-16 t0,-16 t0,-16 t0,-16 t0,-16 t0,-16 t0,-16 t0,-16 l0,-40" fill="none" stroke="#111" stroke-width="2.5" marker-end="url(#mk)"/>
<text x="1822" y="2382" font-size="48" text-anchor="middle">O<tspan font-size="30" dy="10">2</tspan></text>
<text x="1746" y="2588" font-size="48" text-anchor="middle" style="fill:#222">carbon</text>
<text x="1612" y="2760" font-size="48" text-anchor="middle">TiO<tspan font-size="30" dy="10">2</tspan></text>
<text x="1459" y="2918" font-size="48" text-anchor="middle">PT</text>
<text x="1759" y="2915" font-size="49" text-anchor="middle">heat transfer</text>
<text x="1323" y="2983" font-size="48" text-anchor="middle">PC</text>
</svg>
</body></html>
